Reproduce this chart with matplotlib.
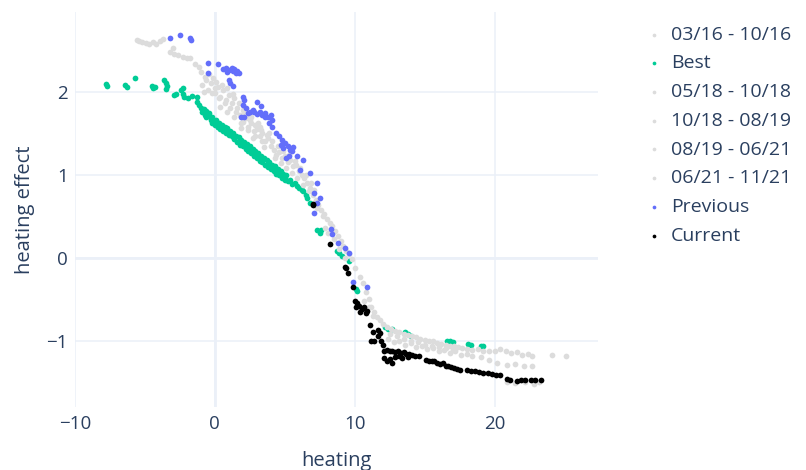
import matplotlib
matplotlib.use("Agg")
import matplotlib.pyplot as plt

plt.rcParams["font.family"] = ["Open Sans", "DejaVu Sans"]

# ---- data ----
gray1_x = [-5.6, -5.4, -5.2, -4.9, -4.7, -4.4, -4.2, -3.9, -3.7, -3.2, -3.0, -2.9, -2.6, -2.3, -2.0, -1.8,
           -1.4, -1.1, -1.0, -0.9, -0.7, -0.6, -0.4, -0.3, -0.1, 0.0, -0.8, -0.5, -0.2]
gray1_y = [2.62, 2.61, 2.60, 2.59, 2.57, 2.60, 2.58, 2.61, 2.63, 2.48, 2.53, 2.45, 2.44, 2.42, 2.40, 2.41,
           2.33, 2.30, 2.24, 2.08, 2.18, 2.14, 2.21, 2.10, 2.16, 2.05, 2.00, 2.02, 1.98]

best_x = [-7.8, -7.7, -6.4, -6.3, -5.7, -4.5, -4.4, -4.3, -3.6, -3.5, -3.4, -3.5, -2.9, -2.8, -2.4, -2.3,
          -2.2, -2.3, -1.9, -1.6, -1.3, -1.3, -1.1, -1.0, -0.9, -0.8, -0.7, -0.6, -0.5, -0.4, -0.3, -0.2,
          -0.1, 0.0, 0.1, 0.2, 0.3, 0.4, 0.5, 0.6, 0.7, 0.8, 0.9, 1.0, 1.1, 1.2, 1.3, 1.4, 1.5, 1.6,
          1.7, 1.8, 1.9, 2.0, 2.1, 2.2, 2.3, 2.4, 2.5, 2.6, 2.7, 2.8, 2.9, 3.0, 3.1, 3.2, 3.3, 3.4,
          3.5, 3.6, 3.7, 3.8, 3.9, 4.0, 4.1, 4.2, 4.3, 4.4, 4.5, 4.6, 4.7, 4.8, 4.9, 5.0, 5.1, 5.2,
          5.4, 5.5, 5.7, 5.9, 6.0, 6.2, 6.3, 6.5, 6.6, 6.8, 7.3, 7.5, 7.6, 8.7, 8.9, 9.1, 9.6, 10.1,
          10.2, 12.2, 12.4, 12.7, 13.6, 13.8, 14.0, 16.6, 16.8, 17.0, 18.1, 18.3, 19.0, 19.2,
          -0.6, -0.2, 0.2, 0.6, 1.0, 1.4, 1.8, 2.2, 2.6, 3.0, 3.4, 3.8, 4.2, 4.6, 5.0]
best_y = [2.09, 2.07, 2.08, 2.06, 2.17, 2.07, 2.05, 2.06, 2.14, 2.10, 2.07, 2.03, 1.96, 1.97, 2.02, 1.97,
          1.93, 2.05, 1.92, 1.95, 1.94, 1.87, 1.84, 1.80, 1.76, 1.79, 1.72, 1.77, 1.71, 1.74, 1.66, 1.70,
          1.63, 1.60, 1.66, 1.57, 1.62, 1.55, 1.60, 1.52, 1.58, 1.50, 1.56, 1.48, 1.53, 1.46, 1.50, 1.43,
          1.47, 1.39, 1.45, 1.36, 1.42, 1.34, 1.39, 1.31, 1.37, 1.28, 1.34, 1.26, 1.31, 1.23, 1.29, 1.20,
          1.26, 1.17, 1.23, 1.15, 1.20, 1.12, 1.18, 1.09, 1.15, 1.07, 1.12, 1.04, 1.10, 1.01, 1.07, 0.99,
          1.04, 0.96, 1.01, 0.94, 0.99, 0.92, 0.93, 0.89, 0.90, 0.86, 0.84, 0.82, 0.80, 0.75, 0.72, 0.66,
          0.33, 0.30, 0.33, 0.08, 0.05, 0.02, -0.04, -0.38, -0.40, -0.84, -0.86, -0.86, -0.90, -0.92,
          -0.94, -1.00, -1.01, -1.02, -1.04, -1.05, -1.06, -1.07,
          1.70, 1.62, 1.58, 1.56, 1.51, 1.44, 1.40, 1.34, 1.28, 1.24, 1.18, 1.13, 1.07, 1.02, 0.96]

gray2_x = [0.0, 0.2, 0.4, 0.6, 0.8, 1.0, 1.2, 1.4, 1.6, 1.8, 2.0, 2.2, 2.4, 2.6, 2.8, 3.0, 3.2, 3.4,
           3.6, 3.8, 4.0, 0.1, 0.5, 0.9, 1.3, 1.7, 2.1, 2.5, 2.9, 3.3, 3.7, 4.1, 1.1, 1.9, 2.7, 3.5,
           0.3, 0.7, 1.5, 2.3, 3.1, 3.9, 0.4, 0.9, 1.4, 1.9, 2.4, 2.9, 3.4, 2.0, 2.6, 3.2]
gray2_y = [1.98, 2.06, 1.94, 2.02, 1.90, 1.96, 1.86, 1.92, 1.80, 1.72, 1.64, 1.68, 1.58, 1.62, 1.52, 1.55,
           1.46, 1.50, 1.40, 1.44, 1.34, 2.12, 2.08, 2.04, 1.97, 1.86, 1.74, 1.66, 1.60, 1.54, 1.48, 1.40,
           1.80, 1.56, 1.44, 1.33, 1.92, 1.86, 1.76, 1.70, 1.62, 1.50, 1.82, 1.76, 1.70, 1.62, 1.54, 1.46,
           1.40, 1.78, 1.70, 1.58]

gray3_x = [4.2, 4.4, 4.6, 4.8, 5.0, 5.2, 5.4, 5.6, 5.8, 6.0, 6.2, 6.4, 6.6, 6.8, 7.0, 7.2, 7.4, 7.6,
           7.8, 8.0, 8.2, 8.4, 8.6, 8.8, 9.0, 9.2, 9.4, 9.6, 9.8, 10.0, 4.5, 4.9, 5.3, 5.7, 6.1, 6.5,
           6.9, 7.3, 7.7, 8.1, 8.5, 8.9, 9.3, 6.3, 6.7, 7.1, 7.9, 4.3, 4.7, 5.1, 5.5, 5.9]
gray3_y = [1.30, 1.24, 1.27, 1.20, 1.22, 1.15, 1.18, 1.10, 1.12, 1.04, 1.00, 0.96, 0.90, 0.84, 0.76, 0.70,
           0.64, 0.58, 0.52, 0.46, 0.42, 0.38, 0.32, 0.26, 0.20, 0.14, 0.08, 0.04, -0.02, -0.12, 1.34,
           1.28, 1.24, 1.16, 1.08, 1.00, 0.90, 0.60, 0.50, 0.30, 0.22, 0.10, 0.00, 0.88, 0.80, 0.82, 0.36,
           1.20, 1.14, 1.08, 1.02, 0.96]

gray4_x = [10.4, 10.6, 10.8, 11.0, 11.2, 11.4, 11.6, 11.8, 12.0, 12.3, 12.6, 12.9, 13.2, 13.5, 13.8, 14.1,
           14.4, 14.7, 15.0, 15.3, 15.6, 15.9, 16.2, 16.5, 16.8, 17.1, 17.4, 17.7, 18.0, 12.4, 12.8, 13.2,
           13.6, 14.0, 14.4, 14.8, 15.2, 15.6, 16.0, 16.4, 16.8, 17.2, 17.6, 18.0, 18.4, 10.7, 11.0, 11.3,
           12.5, 13.0, 13.5, 14.0, 14.5, 15.0, 15.5, 16.0, 16.5, 17.0]
gray4_y = [-0.23, -0.30, -0.42, -0.50, -0.59, -0.66, -0.72, -0.75, -0.80, -0.84, -0.86, -0.88, -0.90, -0.92,
           -0.93, -0.95, -0.96, -0.98, -0.99, -1.00, -1.01, -1.03, -1.04, -1.05, -1.06, -1.07, -1.08, -1.09,
           -1.10, -0.98, -1.02, -1.00, -1.05, -1.03, -1.08, -1.06, -1.10, -1.09, -1.12, -1.11, -1.15, -1.13,
           -1.17, -1.16, -1.19, -0.52, -0.60, -0.70, -0.92, -0.95, -0.98, -1.00, -1.02, -1.05, -1.06, -1.08,
           -1.09, -1.11]

gray5_x = [18.4, 18.8, 19.2, 19.6, 20.0, 20.4, 20.8, 21.2, 21.6, 22.0, 22.4, 22.7, 24.1, 25.1, 19.0, 19.6,
           20.2, 20.9, 21.5, 22.1, 22.7, 20.9, 21.5, 22.2, 22.8, 23.2]
gray5_y = [-1.11, -1.10, -1.12, -1.13, -1.12, -1.10, -1.13, -1.15, -1.14, -1.17, -1.16, -1.19, -1.17, -1.18,
           -1.20, -1.23, -1.27, -1.29, -1.28, -1.31, -1.30, -1.50, -1.51, -1.50, -1.52, -1.50]

prev_x = [-3.2, -2.5, -1.8, -1.7, -0.5, -0.5, 0.2, 0.6, 0.8, 1.0, 1.2, 1.4, 1.6, 1.5, 1.0, 1.1, 1.3,
          2.0, 2.1, 2.0, 1.9, 2.1, 2.5, 2.7, 3.0, 3.2, 3.4, 3.6, 3.8, 4.0, 4.1, 3.9, 4.1, 3.0, 3.3,
          2.2, 2.4, 4.6, 4.8, 5.0, 5.2, 4.9, 5.4, 5.6, 5.1, 5.3, 5.9, 6.3, 6.1, 6.8, 7.3, 7.1, 7.3,
          7.1, 7.5, 8.3, 8.4, 8.8, 9.3, 9.6, 9.9, 10.9, 0.9, 1.3, 1.7, 2.8, 3.6, 4.4, 4.7, 5.5]
prev_y = [2.65, 2.68, 2.65, 2.62, 2.35, 2.23, 2.33, 2.27, 2.28, 2.26, 2.29, 2.27, 2.25, 2.22, 2.14, 2.10,
          2.07, 1.94, 1.90, 1.84, 1.69, 1.70, 1.76, 1.78, 1.73, 1.76, 1.72, 1.74, 1.70, 1.72, 1.66, 1.62,
          1.58, 1.87, 1.83, 1.80, 1.74, 1.46, 1.42, 1.38, 1.35, 1.32, 1.30, 1.33, 1.20, 1.22, 1.22, 1.18,
          1.06, 1.02, 0.90, 0.78, 0.66, 0.54, 0.72, 0.34, 0.28, 0.18, 0.12, 0.06, -0.29, -0.35, 2.24,
          2.25, 2.23, 1.75, 1.70, 1.50, 1.36, 1.28]

curr_x = [7.0, 7.0, 8.2, 9.3, 9.4, 9.5, 9.85, 10.0, 10.2, 10.1, 10.3, 10.5, 10.4, 10.7, 10.8, 10.9,
          11.1, 11.3, 11.2, 11.4, 11.7, 11.7, 11.8, 11.9, 12.0, 12.1, 12.3, 12.5, 12.7, 12.9, 13.1, 13.3,
          13.5, 13.7, 13.9, 14.1, 14.3, 14.6, 12.1, 12.3, 12.5, 12.7, 12.9, 13.2, 13.4, 13.8, 15.1, 15.3,
          15.5, 15.7, 15.9, 16.1, 16.3, 16.5, 16.7, 16.9, 17.1, 17.3, 17.5, 18.0, 18.3, 18.6, 18.9, 19.2,
          19.5, 19.8, 20.1, 20.4, 20.9, 21.1, 21.6, 21.9, 22.2, 22.6, 22.9, 23.3]
curr_y = [0.63, 0.65, 0.16, -0.11, -0.13, -0.18, -0.35, -0.52, -0.55, -0.60, -0.58, -0.62, -0.66, -0.60,
          -0.67, -0.64, -0.81, -0.90, -1.01, -1.01, -0.87, -0.95, -0.91, -1.00, -1.05, -1.12, -1.11, -1.13,
          -1.12, -1.14, -1.13, -1.15, -1.14, -1.16, -1.16, -1.17, -1.18, -1.19, -1.21, -1.24, -1.22, -1.27,
          -1.20, -1.19, -1.21, -1.20, -1.23, -1.24, -1.25, -1.24, -1.27, -1.28, -1.27, -1.30, -1.30, -1.32,
          -1.33, -1.34, -1.35, -1.35, -1.37, -1.37, -1.38, -1.39, -1.39, -1.40, -1.41, -1.41, -1.46, -1.48,
          -1.49, -1.47, -1.47, -1.48, -1.47, -1.48]

series = [
    ("03/16 - 10/16", gray1_x, gray1_y, "#dcdcdc"),
    ("Best", best_x, best_y, "#00cc96"),
    ("05/18 - 10/18", gray2_x, gray2_y, "#dcdcdc"),
    ("10/18 - 08/19", gray3_x, gray3_y, "#dcdcdc"),
    ("08/19 - 06/21", gray4_x, gray4_y, "#dcdcdc"),
    ("06/21 - 11/21", gray5_x, gray5_y, "#dcdcdc"),
    ("Previous", prev_x, prev_y, "#636efa"),
    ("Current", curr_x, curr_y, "black"),
]

text_color = "#2a3f5f"
grid_color = "#ebf0f8"

fig = plt.figure(figsize=(8.06, 4.70), dpi=100)
ax = fig.add_axes([75 / 806, 1 - 407 / 470, (598 - 75) / 806, (407 - 12) / 470])

for name, xs, ys, col in series:
    ax.scatter(xs, ys, s=17, color=col, linewidths=0, label=name, zorder=3)

ax.set_xlim(-10.0, 27.4)
ax.set_ylim(-1.80, 2.96)
ax.set_xticks([-10, 0, 10, 20])
ax.set_yticks([-1, 0, 1, 2])
ax.grid(True, color=grid_color, linewidth=1.1, zorder=0)
ax.axhline(0, color=grid_color, linewidth=2, zorder=1)
ax.axvline(0, color=grid_color, linewidth=2, zorder=1)
for sp in ax.spines.values():
    sp.set_visible(False)
ax.tick_params(length=0, labelsize=13.5, labelcolor=text_color)
ax.tick_params(axis="y", pad=5)
ax.tick_params(axis="x", pad=6)
ax.set_xlabel("heating", fontsize=14.5, color=text_color, labelpad=13)
ax.set_ylabel("heating effect", fontsize=14.5, color=text_color, labelpad=8)

fig.legend(loc="upper left", bbox_to_anchor=(636 / 806, 1 - 18 / 470), frameon=False,
           fontsize=14, labelcolor=text_color, markerscale=0.65, handletextpad=0.4,
           labelspacing=0.55, borderaxespad=0, handlelength=1.0)

fig.savefig("out.png", dpi=100)
